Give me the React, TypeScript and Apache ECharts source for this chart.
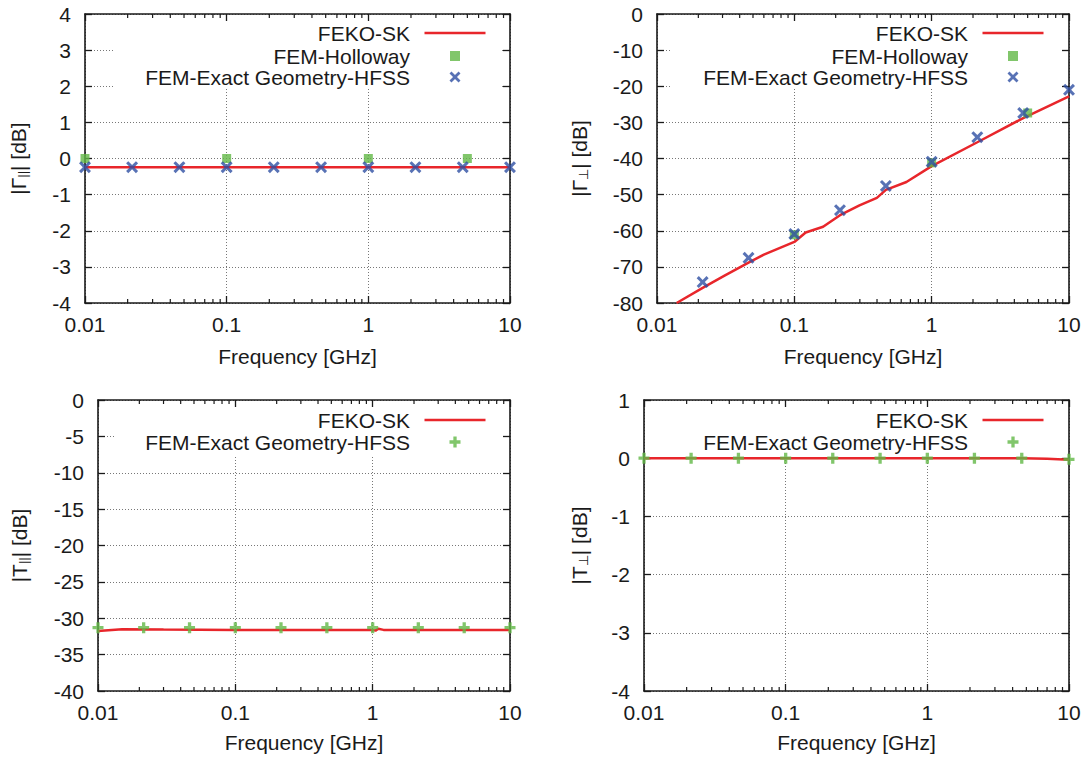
import React, { useEffect, useRef } from 'react';
import * as echarts from 'echarts';

// ---------- data ----------
const FREQ_HFSS = [0.01, 0.0215, 0.0464, 0.1, 0.215, 0.464, 1, 2.15, 4.64, 10];
const FREQ_HOLLOWAY = [0.01, 0.1, 1, 5];
const MINOR_TICKS = [
  0.02, 0.03, 0.04, 0.05, 0.06, 0.07, 0.08, 0.09,
  0.2, 0.3, 0.4, 0.5, 0.6, 0.7, 0.8, 0.9,
  2, 3, 4, 5, 6, 7, 8, 9,
];

// Panel 1: |Γ∥|
const GPAR_FEKO_F = [0.01, 10];
const GPAR_FEKO = [-0.24, -0.24];
const GPAR_HOLLOWAY = [0, 0, 0, 0];
const GPAR_HFSS = [-0.24, -0.24, -0.24, -0.24, -0.24, -0.24, -0.24, -0.24, -0.24, -0.24];

// Panel 2: |Γ⊥|
const GPERP_FEKO_F = [0.0139, 0.0215, 0.0308, 0.0464, 0.06, 0.1, 0.121, 0.162, 0.215, 0.298, 0.399, 0.464, 0.655, 1, 2.15, 4.64, 10];
const GPERP_FEKO = [-80, -75.8, -72.5, -68.8, -66.6, -63.1, -60.5, -58.9, -55.7, -53.0, -50.9, -48.7, -46.5, -42.1, -35.5, -28.8, -22.8];
const GPERP_HOLLOWAY_F = [0.1, 1, 5];
const GPERP_HOLLOWAY = [-61.1, -41.2, -27.4];
const GPERP_HFSS_F = [0.0215, 0.0464, 0.1, 0.215, 0.464, 1, 2.15, 4.64, 10];
const GPERP_HFSS = [-74.2, -67.5, -60.9, -54.3, -47.6, -40.9, -34.1, -27.4, -21.0];

// Panel 3: |T∥|
const TPAR_FEKO_F = [0.01, 0.015, 0.03, 0.1, 1, 1.05, 1.1, 1.2, 10];
const TPAR_FEKO = [-31.75, -31.5, -31.55, -31.6, -31.6, -31.7, -31.45, -31.6, -31.6];
const TPAR_HFSS = [-31.3, -31.3, -31.3, -31.3, -31.3, -31.3, -31.3, -31.3, -31.3, -31.3];

// Panel 4: |T⊥|
const TPERP_FEKO_F = [0.01, 4.64, 7, 10];
const TPERP_FEKO = [0, 0, -0.01, -0.025];
const TPERP_HFSS = [0, 0, 0, 0, 0, 0, 0, 0, 0, -0.02];

const Y_RANGES = [
  { min: -4, max: 4, interval: 1 },
  { min: -80, max: 0, interval: 10 },
  { min: -40, max: 0, interval: 5 },
  { min: -4, max: 1, interval: 1 },
];
const Y_NAMES = [
  '{a||Γ}{b|||}{a|| [dB]}',
  '{a||Γ}{b|⊥}{a|| [dB]}',
  '{a||T}{b|||}{a|| [dB]}',
  '{a||T}{b|⊥}{a|| [dB]}',
];

// ---------- style ----------
const FONT = "'Liberation Sans', Arial, Helvetica, sans-serif";
const FS = 21;
const TXT = '#1a1a1a';
const AX = '#1a1a1a';
const RED = '#e8262b';
const GREEN = '#62b846';
const BLUE = '#2e4fa3';
const X_PATH = 'path://M0,1.8L1.8,0L5,3.2L8.2,0L10,1.8L6.8,5L10,8.2L8.2,10L5,6.8L1.8,10L0,8.2L3.2,5Z';
const PLUS_PATH = 'path://M3.5,0H6.5V3.5H10V6.5H6.5V10H3.5V6.5H0V3.5H3.5Z';
const SQUARE_PATH = 'path://M0,0H10V10H0Z';

const GRIDS = [
  { left: 85, top: 14, width: 425, height: 289 },
  { left: 657, top: 14, width: 412, height: 289 },
  { left: 98, top: 400, width: 412, height: 291 },
  { left: 644, top: 400, width: 425, height: 291 },
];
const Y_NAME_GAP = [56, 67, 68, 54];
const X_NAME_GAP = [43, 43, 41, 41];

const zip = (xs: number[], ys: number[]) => xs.map((x, i) => [x, ys[i]]);

function buildOption() {
  const xAxis: any[] = [];
  const yAxis: any[] = [];
  const series: any[] = [];
  const lineStyle = { color: AX, width: 1.6 };
  const tickStyle = { color: AX, width: 1.3 };
  const labelFmt = (v: number) => String(parseFloat(Number(v).toPrecision(4)));

  GRIDS.forEach((g, i) => {
    const yr = Y_RANGES[i];
    xAxis.push({
      type: 'log', logBase: 10, gridIndex: i, min: 0.01, max: 10, position: 'bottom',
      axisLine: { show: true, onZero: false, lineStyle },
      axisTick: { show: true, inside: true, length: 7, lineStyle: tickStyle },
      axisLabel: { fontSize: FS, color: TXT, fontFamily: FONT, margin: 11, formatter: labelFmt },
      splitLine: { show: true, lineStyle: { type: [1, 2], color: '#777', width: 1 } },
      name: 'Frequency [GHz]', nameLocation: 'middle', nameGap: X_NAME_GAP[i],
      nameTextStyle: { fontSize: FS, color: TXT, fontFamily: FONT },
    });
    xAxis.push({
      type: 'log', logBase: 10, gridIndex: i, min: 0.01, max: 10, position: 'top',
      axisLine: { show: true, onZero: false, lineStyle },
      axisTick: { show: true, inside: true, length: 7, lineStyle: tickStyle },
      axisLabel: { show: false }, splitLine: { show: false },
    });
    yAxis.push({
      type: 'value', gridIndex: i, min: yr.min, max: yr.max, interval: yr.interval, position: 'left',
      axisLine: { show: true, onZero: false, lineStyle },
      axisTick: { show: true, inside: true, length: 7, lineStyle: tickStyle },
      axisLabel: { fontSize: FS, color: TXT, fontFamily: FONT, margin: 14 },
      splitLine: { show: true, lineStyle: { type: [1, 2], color: '#777', width: 1 } },
      name: Y_NAMES[i], nameLocation: 'middle', nameRotate: 90, nameGap: Y_NAME_GAP[i],
      nameTextStyle: {
        fontSize: FS, color: TXT, fontFamily: FONT,
        rich: {
          a: { fontSize: FS, color: TXT, fontFamily: FONT, lineHeight: FS, verticalAlign: 'top' },
          b: { fontSize: 13, color: TXT, fontFamily: FONT, lineHeight: 13, padding: [10, 0, 0, 0], verticalAlign: 'bottom' },
        },
      },
    });
    yAxis.push({
      type: 'value', gridIndex: i, min: yr.min, max: yr.max, interval: yr.interval, position: 'right',
      axisLine: { show: true, onZero: false, lineStyle },
      axisTick: { show: true, inside: true, length: 7, lineStyle: tickStyle },
      axisLabel: { show: false }, splitLine: { show: false },
    });
    series.push({
      type: 'custom', xAxisIndex: 2 * i, yAxisIndex: 2 * i, silent: true, z: 3,
      data: MINOR_TICKS.map((v) => [v, yr.min]),
      renderItem: (params: any, api: any) => {
        const x = api.coord([api.value(0), api.value(1)])[0];
        const cs = params.coordSys;
        const st = { stroke: AX, lineWidth: 1.2 };
        return {
          type: 'group',
          children: [
            { type: 'line', shape: { x1: x, y1: cs.y + cs.height, x2: x, y2: cs.y + cs.height - 4 }, style: st },
            { type: 'line', shape: { x1: x, y1: cs.y, x2: x, y2: cs.y + 4 }, style: st },
          ],
        };
      },
    });
  });

  const feko = (i: number, xs: number[], ys: number[]) => ({
    name: 'FEKO-SK', type: 'line', xAxisIndex: 2 * i, yAxisIndex: 2 * i,
    data: zip(xs, ys), symbol: 'none', lineStyle: { color: RED, width: 2.5 }, itemStyle: { color: RED }, z: 3,
  });
  const holl = (i: number, xs: number[], ys: number[]) => ({
    name: 'FEM-Holloway', type: 'scatter', xAxisIndex: 2 * i, yAxisIndex: 2 * i,
    data: zip(xs, ys), symbol: 'rect', symbolSize: 9, itemStyle: { color: GREEN }, z: 4,
  });
  const hfss = (i: number, xs: number[], ys: number[], sym: string, color: string, size: number) => ({
    name: 'FEM-Exact Geometry-HFSS', type: 'scatter', xAxisIndex: 2 * i, yAxisIndex: 2 * i,
    data: zip(xs, ys), symbol: sym, symbolSize: size, itemStyle: { color }, z: 5,
  });

  series.push(feko(0, GPAR_FEKO_F, GPAR_FEKO));
  series.push(holl(0, FREQ_HOLLOWAY, GPAR_HOLLOWAY));
  series.push(hfss(0, FREQ_HFSS, GPAR_HFSS, X_PATH, BLUE, 12));

  series.push(feko(1, GPERP_FEKO_F, GPERP_FEKO));
  series.push(holl(1, GPERP_HOLLOWAY_F, GPERP_HOLLOWAY));
  series.push(hfss(1, GPERP_HFSS_F, GPERP_HFSS, X_PATH, BLUE, 12));

  series.push(feko(2, TPAR_FEKO_F, TPAR_FEKO));
  series.push(hfss(2, FREQ_HFSS, TPAR_HFSS, PLUS_PATH, GREEN, 11));

  series.push(feko(3, TPERP_FEKO_F, TPERP_FEKO));
  series.push(hfss(3, FREQ_HFSS, TPERP_HFSS, PLUS_PATH, GREEN, 11));

  // legend rows: sample centre x (px), row centre y (px)
  const legendItem = (item: any, centerX: number, centerY: number, w: number, h: number) => {
    const iconRight = centerX + w / 2;
    const textRight = 410 + (centerX - 455);
    const pad = iconRight - w - 5 - textRight;
    return {
      data: [item], right: 1089 - iconRight, top: centerY - FS / 2, orient: 'horizontal', align: 'right', padding: 0,
      itemWidth: w, itemHeight: h, selectedMode: false, symbolKeepAspect: false,
      textStyle: { fontSize: FS, color: TXT, fontFamily: FONT, lineHeight: FS, padding: [0, pad, 0, 0] },
    };
  };
  const xLeg = { name: 'FEM-Exact Geometry-HFSS', icon: X_PATH, itemStyle: { color: BLUE } };
  const pLeg = { name: 'FEM-Exact Geometry-HFSS', icon: PLUS_PATH, itemStyle: { color: GREEN } };
  const hLeg = { name: 'FEM-Holloway', icon: SQUARE_PATH, itemStyle: { color: GREEN } };
  const fLeg = { name: 'FEKO-SK', icon: 'rect', itemStyle: { color: RED } };
  const L = 455;
  const R = 1013;
  const legend = [
    legendItem(fLeg, L, 33, 61, 2.5), legendItem(hLeg, L, 56, 10, 10), legendItem(xLeg, L, 77, 11, 11),
    legendItem(fLeg, R, 33, 61, 2.5), legendItem(hLeg, R, 56, 10, 10), legendItem(xLeg, R, 77, 11, 11),
    legendItem(fLeg, L, 420, 61, 2.5), legendItem(pLeg, L, 442, 11, 11),
    legendItem(fLeg, R, 420, 61, 2.5), legendItem(pLeg, R, 442, 11, 11),
  ];

  const keyBox = (x: number, y: number, w: number, h: number) => ({
    type: 'rect', z: 1, silent: true, shape: { x, y, width: w, height: h }, style: { fill: '#fff' },
  });

  return {
    animation: false,
    backgroundColor: '#fff',
    grid: GRIDS.map((g) => ({ ...g, containLabel: false })),
    xAxis, yAxis, series, legend,
    graphic: [
      keyBox(114, 22, 388, 65),
      keyBox(670, 22, 391, 65),
      keyBox(114, 408, 388, 49),
      keyBox(670, 408, 391, 49),
    ],
  };
}

export default function App() {
  const ref = useRef<HTMLDivElement>(null);
  useEffect(() => {
    if (!ref.current) return;
    const chart = echarts.init(ref.current, undefined, { renderer: 'svg' });
    chart.setOption(buildOption() as any);
    return () => chart.dispose();
  }, []);
  return (
    <div
      ref={ref}
      style={{ position: 'fixed', left: 0, top: 0, width: 1089, height: 759, background: '#fff' }}
    />
  );
}
